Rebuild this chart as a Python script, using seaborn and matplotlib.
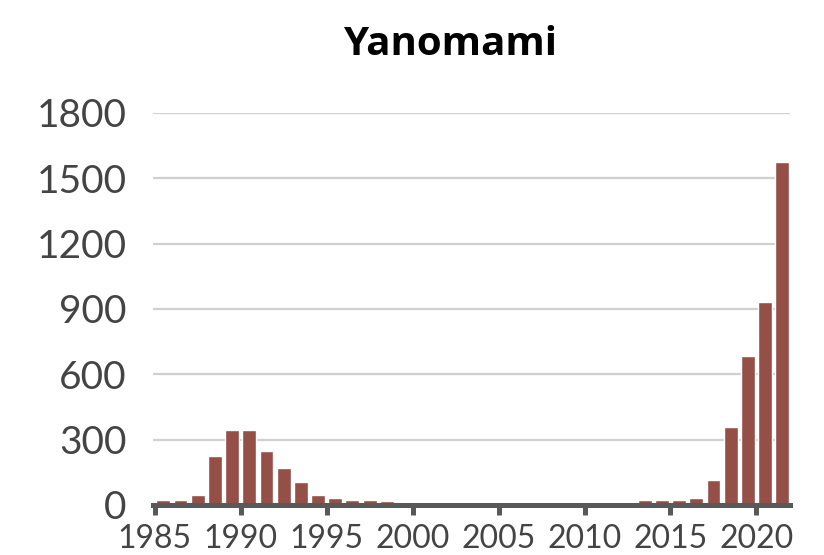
import matplotlib
matplotlib.use("Agg")
import matplotlib.pyplot as plt
import seaborn as sns
import pandas as pd

# values
years = list(range(1985, 2022))
cases = [22, 22, 45, 226, 346, 346, 249, 171, 104, 45,
         32, 22, 22, 17, 5, 5, 5, 5, 5, 5,
         5, 5, 5, 5, 5, 5, 5, 5, 22, 22,
         22, 32, 114, 360, 682, 930, 1573]
tick_years = list(range(1985, 2021, 5))
y_ticks = [0, 300, 600, 900, 1200, 1500, 1800]

BAR_COLOR = "#944F47"
AXIS_COLOR = "#595959"
TEXT_COLOR = "#444444"

df = pd.DataFrame({"year": years, "cases": cases})

sns.set_theme(style="white")
plt.rcParams["font.family"] = ["Lato", "DejaVu Sans"]

fig = plt.figure(figsize=(8.24, 5.55), dpi=100)
ax = fig.add_axes([0.1857, 0.0901, 0.773, 0.7063])

sns.barplot(data=df, x="year", y="cases", color=BAR_COLOR, width=0.81,
            saturation=1, ax=ax, zorder=2)

ax.set_ylim(0, 1800)
ax.set_xlim(-0.6, len(years) - 0.55)
ax.set_yticks(y_ticks)
ax.set_yticklabels([str(v) for v in y_ticks], fontsize=28, color=TEXT_COLOR)
ax.yaxis.grid(True, color="#d0d0d0", linewidth=1.6, zorder=0)
ax.set_axisbelow(True)

ax.set_xticks([years.index(y) - 0.5 for y in tick_years])
ax.set_xticklabels([str(y) for y in tick_years], fontsize=23, color=TEXT_COLOR)
ax.tick_params(axis="x", direction="out", length=7, width=3.6, color=AXIS_COLOR,
               pad=7, bottom=True)
ax.tick_params(axis="y", length=0, pad=19)

for side in ["top", "right", "left"]:
    ax.spines[side].set_visible(False)
ax.spines["bottom"].set_color(AXIS_COLOR)
ax.spines["bottom"].set_linewidth(3.6)
ax.spines["bottom"].set_zorder(3)

ax.set_xlabel("")
ax.set_ylabel("")

fig.text(0.546, 0.919, "Yanomami", ha="center", va="center", fontsize=29,
         fontweight="bold", color="black", family=["Open Sans", "DejaVu Sans"])

fig.savefig("out.png", dpi=100)
